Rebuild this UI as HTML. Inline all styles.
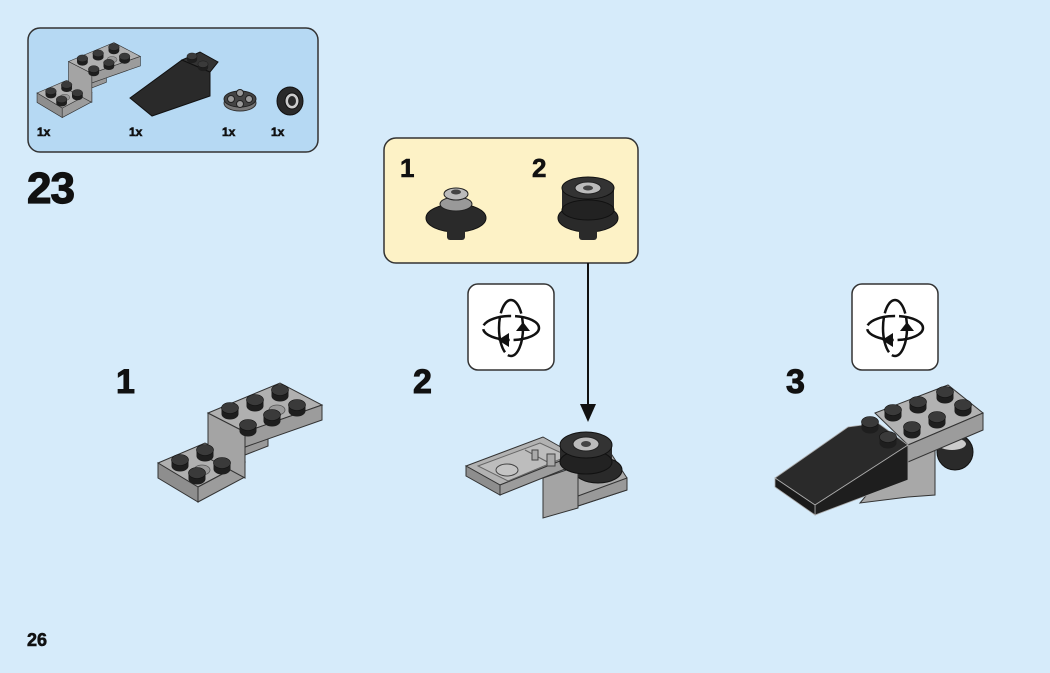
<!DOCTYPE html>
<html><head><meta charset="utf-8"><style>
html,body{margin:0;padding:0;}
body{width:1050px;height:673px;background:#d6ebfa;position:relative;overflow:hidden;font-family:"Liberation Sans",sans-serif;}
.t{position:absolute;font-weight:bold;color:#111;-webkit-text-stroke:0.6px #111;}
</style></head><body>
<svg width="1050" height="673" style="position:absolute;left:0;top:0" xmlns="http://www.w3.org/2000/svg">
<defs>
<g id="stud"><ellipse cx="0" cy="3" rx="8.5" ry="5.5" fill="#1e1e1e"/><rect x="-8.5" y="-3" width="17" height="6" fill="#1e1e1e"/><ellipse cx="0" cy="-3" rx="8.5" ry="5.5" fill="#3a3a3a" stroke="#111" stroke-width="0.6"/></g>
<g id="hole"><ellipse cx="0" cy="0" rx="8" ry="5" fill="#9a9a9a" stroke="#555" stroke-width="0.8"/></g>
<g id="bracket">
<polygon points="158,463 205,443 245,462 198,487" fill="#b0b0b0" stroke="#333"/>
<polygon points="158,463 198,487 198,502 158,478" fill="#8e8e8e" stroke="#333"/>
<polygon points="198,487 245,462 245,477 198,502" fill="#9c9c9c" stroke="#333"/>
<polygon points="208,413 245,432 245,478 208,458" fill="#a4a4a4" stroke="#333"/>
<polygon points="245,447 268,438 268,446 245,455" fill="#999" stroke="#333"/>
<polygon points="208,413 280,383 322,405 245,432" fill="#b0b0b0" stroke="#333"/>
<polygon points="245,432 322,405 322,420 245,447" fill="#9c9c9c" stroke="#333"/>
<use href="#hole" x="277" y="410"/><use href="#hole" x="202" y="470"/>
<use href="#stud" x="280" y="393"/><use href="#stud" x="255" y="403"/><use href="#stud" x="297" y="408"/><use href="#stud" x="230" y="411"/><use href="#stud" x="272" y="418"/><use href="#stud" x="248" y="428"/>
<use href="#stud" x="205" y="453"/><use href="#stud" x="180" y="463"/><use href="#stud" x="222" y="466"/><use href="#stud" x="197" y="476"/>
</g>
<g id="rot">
<rect x="0" y="0" width="86" height="86" rx="10" fill="#fff" stroke="#333" stroke-width="1.5"/>
<ellipse cx="43" cy="44" rx="28" ry="12" fill="none" stroke="#111" stroke-width="2.5" stroke-dasharray="30 4"/>
<ellipse cx="43" cy="44" rx="12" ry="28" fill="none" stroke="#111" stroke-width="2.5" stroke-dasharray="36 4"/>
<path d="M55 38 L48 47 L62 47 Z" fill="#111"/>
<path d="M30 56 L41 49 L41 63 Z" fill="#111"/>
</g>
</defs>
<rect x="28" y="28" width="290" height="124" rx="12" fill="#b6d9f3" stroke="#333" stroke-width="1.5"/>
<g transform="translate(-62.5,-198.7) scale(0.63)"><use href="#bracket"/></g>
<polygon points="130,98 182,60 210,72 210,96 152,116" fill="#2a2a2a" stroke="#111"/>
<polygon points="182,60 200,52 218,62 210,72" fill="#333" stroke="#111"/>
<g transform="translate(192,58) scale(0.6)"><use href="#stud"/></g>
<g transform="translate(203,66) scale(0.6)"><use href="#stud"/></g>
<ellipse cx="240" cy="103" rx="16" ry="8" fill="#777" stroke="#333"/>
<ellipse cx="240" cy="99" rx="16" ry="8" fill="#444" stroke="#222"/>
<circle cx="240" cy="93" r="3.5" fill="#999" stroke="#222"/>
<circle cx="231" cy="99" r="3.5" fill="#999" stroke="#222"/>
<circle cx="249" cy="99" r="3.5" fill="#999" stroke="#222"/>
<circle cx="240" cy="104" r="3.5" fill="#999" stroke="#222"/>
<ellipse cx="290" cy="101" rx="13" ry="14" fill="#2a2a2a" stroke="#111"/>
<ellipse cx="292" cy="101" rx="7" ry="8" fill="#ccc" stroke="#111"/>
<ellipse cx="292" cy="101" rx="4" ry="5" fill="#2a2a2a"/>
<rect x="384" y="138" width="254" height="125" rx="12" fill="#fdf2c6" stroke="#333" stroke-width="1.5"/>
<ellipse cx="456" cy="218" rx="30" ry="14" fill="#2a2a2a" stroke="#111"/>
<rect x="447" y="226" width="18" height="14" rx="3" fill="#2a2a2a"/>
<ellipse cx="456" cy="204" rx="16" ry="7" fill="#999" stroke="#222"/>
<ellipse cx="456" cy="194" rx="12" ry="6" fill="#bbb" stroke="#222"/>
<ellipse cx="456" cy="192" rx="5" ry="2.5" fill="#444"/>
<ellipse cx="588" cy="218" rx="30" ry="14" fill="#2a2a2a" stroke="#111"/>
<rect x="579" y="226" width="18" height="14" rx="3" fill="#2a2a2a"/>
<rect x="562" y="188" width="52" height="22" fill="#2a2a2a"/>
<ellipse cx="588" cy="210" rx="26" ry="10" fill="#222" stroke="#111"/>
<ellipse cx="588" cy="188" rx="26" ry="11" fill="#333" stroke="#111"/>
<ellipse cx="588" cy="188" rx="13" ry="6" fill="#bbb" stroke="#222"/>
<ellipse cx="588" cy="188" rx="5" ry="2.5" fill="#444"/>
<line x1="588" y1="263" x2="588" y2="408" stroke="#111" stroke-width="2"/>
<polygon points="580,404 596,404 588,422" fill="#111"/>
<use href="#rot" x="468" y="284"/>
<use href="#rot" x="852" y="284"/>
<use href="#bracket"/>
<!-- step 2 -->
<polygon points="565,462 610,452 627,478 627,490 578,506 565,470" fill="#a8a8a8" stroke="#333"/>
<polygon points="578,496 627,478 627,490 578,506" fill="#999" stroke="#333"/>
<ellipse cx="598" cy="470" rx="24" ry="13" fill="#2a2a2a" stroke="#111"/>
<polygon points="543,478 578,466 578,508 543,518" fill="#a4a4a4" stroke="#333"/>
<polygon points="466,466 543,437 575,455 500,485" fill="#b2b2b2" stroke="#333"/>
<polygon points="466,466 500,485 500,495 466,476" fill="#8e8e8e" stroke="#333"/>
<polygon points="500,485 575,455 575,465 500,495" fill="#9c9c9c" stroke="#333"/>
<polygon points="478,466 540,443 568,456 508,481" fill="#bdbdbd" stroke="#666"/>
<line x1="525" y1="450" x2="555" y2="466" stroke="#666"/>
<ellipse cx="507" cy="470" rx="11" ry="6" fill="#c4c4c4" stroke="#444"/>
<rect x="547" y="454" width="8" height="12" fill="#aaa" stroke="#444"/>
<rect x="532" y="450" width="6" height="10" fill="#aaa" stroke="#444"/>
<rect x="560" y="446" width="52" height="18" fill="#2a2a2a"/>
<ellipse cx="586" cy="462" rx="26" ry="12" fill="#222" stroke="#111"/>
<ellipse cx="586" cy="445" rx="26" ry="13" fill="#333" stroke="#111"/>
<ellipse cx="586" cy="444" rx="13" ry="7" fill="#bbb" stroke="#222"/>
<ellipse cx="586" cy="444" rx="5" ry="3" fill="#444"/>
<!-- step 3 -->
<ellipse cx="955" cy="452" rx="18" ry="18" fill="#2a2a2a" stroke="#111"/>
<ellipse cx="952" cy="444" rx="14" ry="6" fill="#ccc"/>
<polygon points="908,445 935,435 935,495 908,497 860,503" fill="#a8a8a8" stroke="#333"/>
<polygon points="875,413 948,385 983,413 908,445" fill="#b2b2b2" stroke="#333"/>
<polygon points="908,445 983,413 983,430 908,462" fill="#9c9c9c" stroke="#333"/>
<polygon points="775,478 848,427 878,423 908,445 815,505" fill="#2a2a2a" stroke="#aaa" stroke-width="0.8"/>
<polygon points="815,505 908,445 908,480 815,515" fill="#1e1e1e" stroke="#aaa" stroke-width="0.8"/>
<polygon points="775,478 815,505 815,515 775,487" fill="#1a1a1a" stroke="#aaa" stroke-width="0.8"/>
<use href="#stud" x="945" y="395"/><use href="#stud" x="918" y="405"/><use href="#stud" x="963" y="408"/><use href="#stud" x="893" y="413"/><use href="#stud" x="937" y="420"/><use href="#stud" x="912" y="430"/>
<use href="#stud" x="870" y="425"/><use href="#stud" x="888" y="440"/>
</svg>
<div class="t" style="left:37px;top:125px;font-size:12px">1x</div>
<div class="t" style="left:129px;top:125px;font-size:12px">1x</div>
<div class="t" style="left:222px;top:125px;font-size:12px">1x</div>
<div class="t" style="left:271px;top:125px;font-size:12px">1x</div>
<div class="t" style="left:27px;top:164px;font-size:44px;letter-spacing:-1px;-webkit-text-stroke:1.2px #111">23</div>
<div class="t" style="left:400px;top:153px;font-size:26px">1</div>
<div class="t" style="left:532px;top:153px;font-size:26px">2</div>
<div class="t" style="left:116px;top:363px;font-size:34px;-webkit-text-stroke:1px #111">1</div>
<div class="t" style="left:413px;top:363px;font-size:34px;-webkit-text-stroke:1px #111">2</div>
<div class="t" style="left:786px;top:363px;font-size:34px;-webkit-text-stroke:1px #111">3</div>
<div class="t" style="left:27px;top:630px;font-size:18px">26</div>
</body></html>
